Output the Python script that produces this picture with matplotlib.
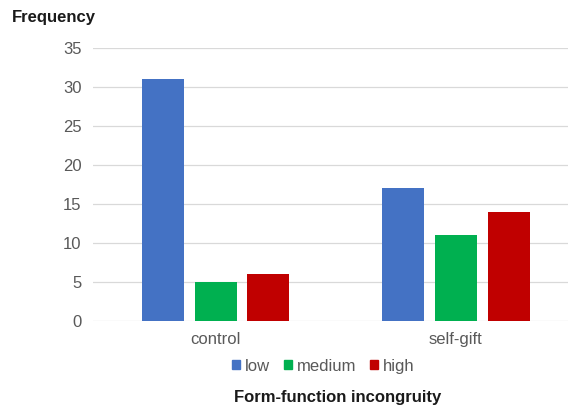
import numpy as np
import matplotlib.pyplot as plt
from matplotlib.patches import Patch

plt.rcParams['font.family'] = ['Liberation Sans', 'DejaVu Sans']

# data
groups = ['control', 'self-gift']
levels = ['low', 'medium', 'high']
low = [31, 17]
medium = [5, 11]
high = [6, 14]
colors = ['#4472C4', '#00B050', '#C00000']
yticks = [0, 5, 10, 15, 20, 25, 30, 35]

FS = 12

fig = plt.figure(figsize=(5.69, 4.09), dpi=100)
ax = fig.add_axes([0.163, 0.215, 0.835, 0.668])

x = np.arange(len(groups))
width = 0.175
step = 0.22
for i, (vals, c) in enumerate(zip([low, medium, high], colors)):
    ax.bar(x + (i - 1) * step, vals, width, color=c, zorder=3)

ax.set_ylim(0, 35)
ax.set_xlim(-0.512, 1.467)
ax.set_yticks(yticks)
ax.set_xticks(x)
ax.set_xticklabels(groups)
ax.tick_params(axis='both', length=0, labelsize=FS, labelcolor='#595959')
ax.tick_params(axis='y', pad=8)
ax.tick_params(axis='x', pad=8)
ax.grid(axis='y', color='#d9d9d9', linewidth=0.9, zorder=0)
for s in ax.spines.values():
    s.set_visible(False)

handles = [Patch(color=c, label=l) for c, l in zip(colors, levels)]
fig.legend(handles=handles, loc='center', bbox_to_anchor=(0.568, 0.105), ncol=3,
           frameon=False, fontsize=FS, handlelength=0.5, handleheight=0.5,
           handletextpad=0.3, columnspacing=0.8, labelcolor='#595959')

fig.text(0.593, 0.027, 'Form-function incongruity', ha='center', va='center',
         fontsize=FS, fontweight='bold', color='#1a1a1a')
fig.text(0.02, 0.956, 'Frequency', ha='left', va='center',
         fontsize=FS, fontweight='bold', color='#1a1a1a')

fig.savefig('out.png', dpi=100)
